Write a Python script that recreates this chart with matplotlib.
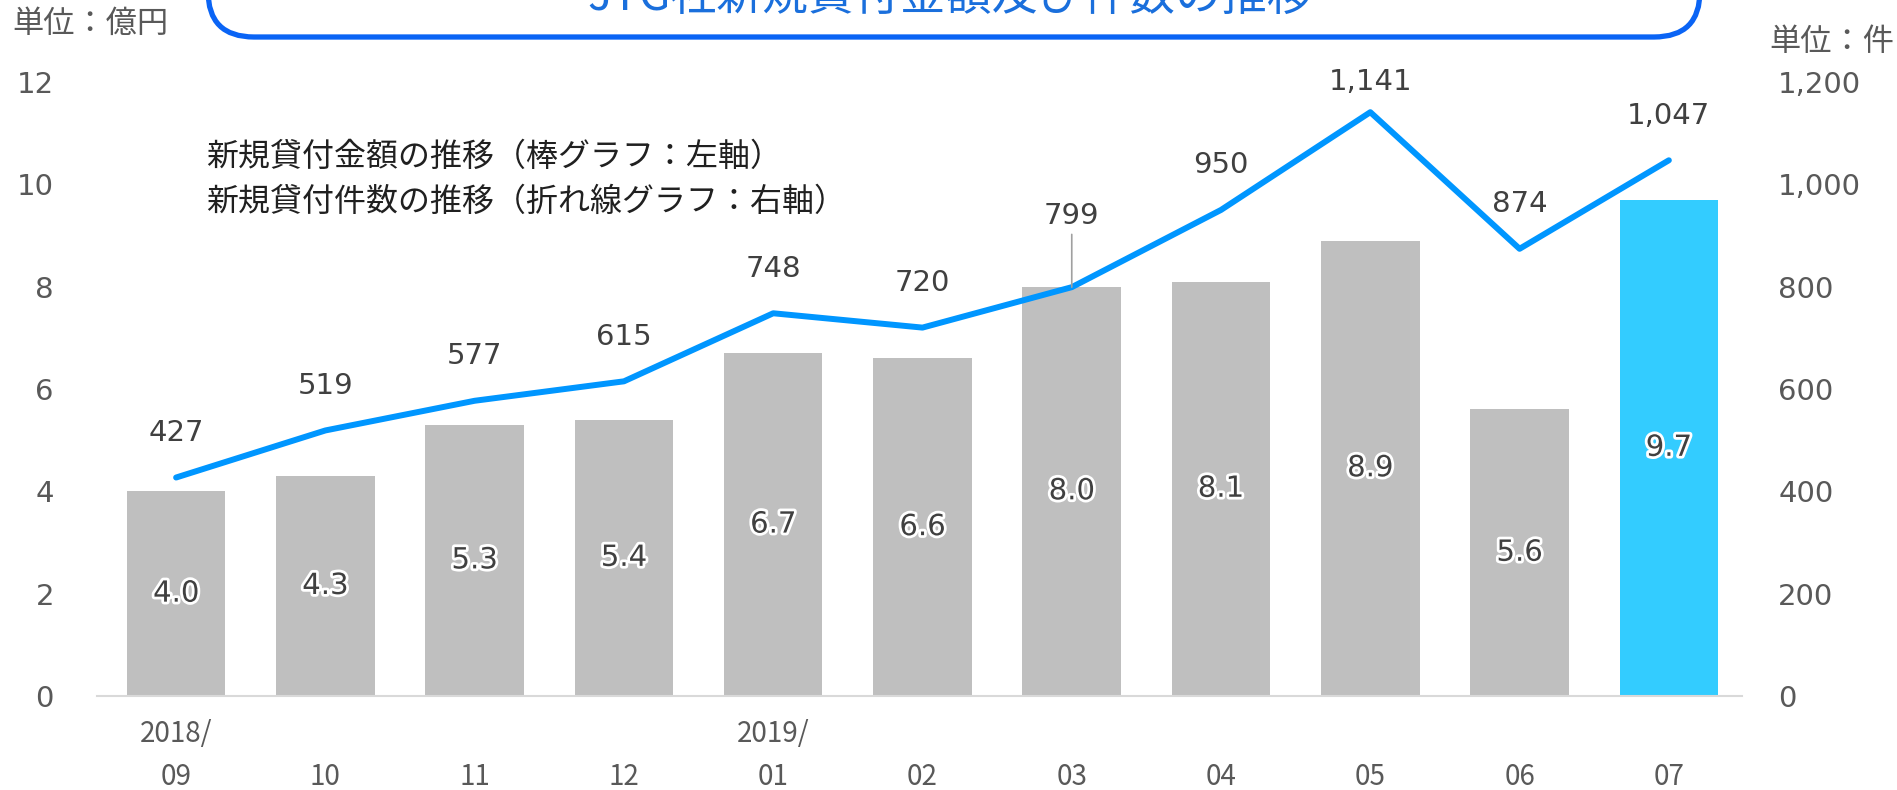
import matplotlib
matplotlib.use('Agg')
import matplotlib.pyplot as plt
import matplotlib.patheffects as pe
from matplotlib.patches import FancyBboxPatch
from matplotlib.transforms import blended_transform_factory, IdentityTransform

plt.rcParams['font.family'] = ['Noto Sans CJK JP', 'DejaVu Sans']

# data
years = ['2018/', '', '', '', '2019/', '', '', '', '', '', '']
months = ['09', '10', '11', '12', '01', '02', '03', '04', '05', '06', '07']
amount = [4.0, 4.3, 5.3, 5.4, 6.7, 6.6, 8.0, 8.1, 8.9, 5.6, 9.7]
count = [427, 519, 577, 615, 748, 720, 799, 950, 1141, 874, 1047]

W, H = 1897, 790
fig = plt.figure(figsize=(W / 100, H / 100), dpi=100)
ax = fig.add_axes([97 / W, 1 - 696 / H, (1742 - 97) / W, (696 - 82) / H])
ax2 = ax.twinx()

x = list(range(len(months)))
colors = ['#bfbfbf'] * (len(x) - 1) + ['#33ccff']
ax.bar(x, amount, width=0.66, color=colors, zorder=2)

num_font = 'DejaVu Sans'
tick_col = '#595959'
lab_col = '#404040'

for xi, v in zip(x, amount):
    ax.text(xi, v / 2, f'{v:.1f}', ha='center', va='center', fontsize=21,
            family=num_font, color=lab_col, zorder=5,
            path_effects=[pe.withStroke(linewidth=4, foreground='white')])

ax2.plot(x, count, color='#0096ff', lw=4.3, solid_capstyle='round', zorder=3)
ax.set_zorder(ax2.get_zorder() - 1)
ax.patch.set_visible(False)

for i, (xi, v) in enumerate(zip(x, count)):
    off = 32
    if v == max(count):
        off = 22
    if months[i] == '03':
        off = 51
        ax2.annotate('', xy=(xi, v), xytext=(0, 38), textcoords='offset points',
                     arrowprops=dict(arrowstyle='-', color='#a0a0a0', lw=1.2,
                                     shrinkA=0, shrinkB=0))
    ax2.annotate(f'{v:,}', xy=(xi, v), xytext=(0, off), textcoords='offset points',
                 ha='center', va='center', fontsize=21, family=num_font,
                 color=lab_col)

ax.set_xlim(-0.53, 10.49)
ax.set_ylim(0, 12)
ax2.set_ylim(0, 1200)
ax.set_yticks(range(0, 13, 2))
ax2.set_yticks(range(0, 1201, 200))
ax2.set_yticklabels([f'{t:,}' for t in range(0, 1201, 200)])

for a in (ax, ax2):
    for s in a.spines.values():
        s.set_visible(False)
    a.tick_params(length=0, labelsize=21, labelcolor=tick_col)
    for lbl in a.get_yticklabels():
        lbl.set_family(num_font)
ax.tick_params(axis='y', pad=31)
ax2.tick_params(axis='y', pad=26)
ax.spines['bottom'].set_visible(True)
ax.spines['bottom'].set_color('#d9d9d9')
ax.spines['bottom'].set_linewidth(1.5)
ax.set_xticks([])

trans = blended_transform_factory(ax.transData, fig.transFigure)
for xi, yr, mo in zip(x, years, months):
    if yr:
        ax.text(xi, 1 - 734 / H, yr, transform=trans, ha='center', va='center',
                fontsize=20, color=tick_col)
    ax.text(xi, 1 - 777 / H, mo, transform=trans, ha='center', va='center',
            fontsize=20, color=tick_col)

# legend-like notes
fig.text(206 / W, 1 - 157 / H, '新規貸付金額の推移（棒グラフ：左軸）', ha='left', va='center',
         fontsize=23, color='#202020')
fig.text(206 / W, 1 - 202 / H, '新規貸付件数の推移（折れ線グラフ：右軸）', ha='left', va='center',
         fontsize=23, color='#202020')

# unit labels
fig.text(12 / W, 1 - 24 / H, '単位：億円', ha='left', va='center', fontsize=22.5, color=tick_col)
fig.text(1769 / W, 1 - 42 / H, '単位：件', ha='left', va='center', fontsize=22.5, color=tick_col)

# title box (top cut off, as in the source), drawn in pixel coordinates
box = FancyBboxPatch((208, H - 37), 1700 - 208, 120,
                     boxstyle='round,pad=0,rounding_size=46',
                     transform=IdentityTransform(), facecolor='white',
                     edgecolor='#0a64f5', lw=3.8, clip_on=False)
fig.add_artist(box)
fig.text(950 / W, 1 + 2 / H, 'JTG社新規貸付金額及び件数の推移', ha='center', va='center',
         fontsize=33, color='#1a6fdc')

fig.savefig('out.png', dpi=100)
